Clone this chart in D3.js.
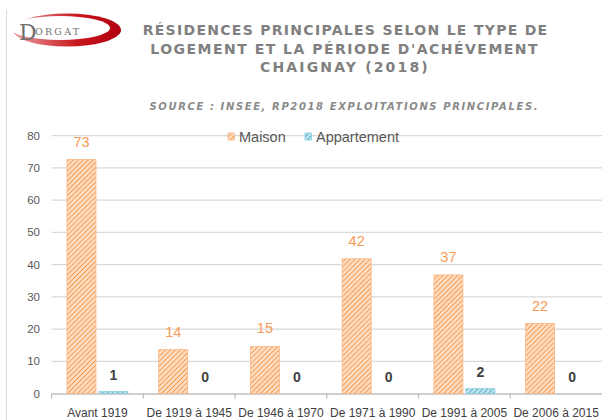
<!DOCTYPE html>
<html>
<head>
<meta charset="utf-8">
<script src="https://cdn.jsdelivr.net/npm/d3@7"></script>
<style>
  html, body { margin: 0; padding: 0; background: #fff; }
  svg { display: block; font-family: "Liberation Sans", Arial, sans-serif; }
</style>
</head>
<body>
<div id="chart"></div>
<script>
// data
var periodes = ["Avant 1919", "De 1919 à 1945", "De 1946 à 1970", "De 1971 à 1990", "De 1991 à 2005", "De 2006 à 2015"];
var maison = [72.6, 13.6, 14.6, 41.8, 36.8, 21.7];
var appartement = [0.6, 0, 0, 0, 1.5, 0];
var series = ["Maison", "Appartement"];
var yTicks = [0, 10, 20, 30, 40, 50, 60, 70, 80];
var titleLines = ["RÉSIDENCES PRINCIPALES SELON LE TYPE DE", "LOGEMENT ET LA PÉRIODE D'ACHÉVEMENT", "CHAIGNAY (2018)"];
var sourceText = "SOURCE : INSEE, RP2018 EXPLOITATIONS PRINCIPALES.";

var width = 602, height = 420;
var plot = {left: 51.6, right: 602, top: 135.7, bottom: 393.5};

var svg = d3.select("#chart")
  .append("svg")
    .attr("width", width)
    .attr("height", height);

// hatch patterns
var defs = svg.append("defs");
function hatch(id, bg, fg) {
  var p = defs.append("pattern")
    .attr("id", id)
    .attr("patternUnits", "userSpaceOnUse")
    .attr("width", 3.5)
    .attr("height", 3.5)
    .attr("patternTransform", "rotate(45)");
  p.append("rect").attr("width", 3.5).attr("height", 3.5).attr("fill", bg);
  p.append("line")
    .attr("x1", 0).attr("y1", 0).attr("x2", 0).attr("y2", 3.5)
    .attr("stroke", fg).attr("stroke-width", 1.7);
}
hatch("hMaison", "#fddcc2", "#f79646");
hatch("hAppart", "#bfe3ee", "#4bacc6");

// logo swoosh: red ellipse with an offset ellipse cut out
var grad = defs.append("linearGradient").attr("id", "logoGrad");
grad.append("stop").attr("offset", "0%").attr("stop-color", "#e9a3a3");
grad.append("stop").attr("offset", "60%").attr("stop-color", "#c8161d");
grad.append("stop").attr("offset", "100%").attr("stop-color", "#b00010");
var mask = defs.append("mask").attr("id", "logoMask");
mask.append("rect").attr("width", 140).attr("height", 60).attr("fill", "#fff");
mask.append("ellipse")
  .attr("cx", 60).attr("cy", 28).attr("rx", 50).attr("ry", 12)
  .attr("fill", "#000");

// left frame line
svg.append("line")
  .attr("x1", 6.5).attr("x2", 6.5).attr("y1", 10).attr("y2", height)
  .attr("stroke", "#d9d9d9");

var logo = svg.append("g");
logo.append("ellipse")
  .attr("cx", 67).attr("cy", 30).attr("rx", 54).attr("ry", 16.5)
  .attr("fill", "url(#logoGrad)")
  .attr("mask", "url(#logoMask)");
logo.append("text")
  .attr("x", 19).attr("y", 40)
  .style("font-family", "'DejaVu Serif', serif")
  .style("font-size", "22px")
  .attr("fill", "#707070")
  .text("D");
logo.append("text")
  .attr("x", 35).attr("y", 34.5)
  .style("font-family", "'DejaVu Serif', serif")
  .style("font-size", "9.5px")
  .style("letter-spacing", "2.2px")
  .attr("fill", "#707070")
  .text("ORGAT");

// title
var titleX = [142.7, 150.3, 260];
var titleW = [404.5, 387.3, 167.7];
var titleY = [35, 54, 72];
svg.selectAll(".title")
  .data(titleLines)
  .enter()
  .append("text")
    .attr("class", "title")
    .attr("x", function(d, i) { return titleX[i]; })
    .attr("y", function(d, i) { return titleY[i]; })
    .attr("textLength", function(d, i) { return titleW[i]; })
    .attr("lengthAdjust", "spacing")
    .style("font-family", "'DejaVu Sans', sans-serif")
    .style("font-size", "14px")
    .style("font-weight", "bold")
    .attr("fill", "#808080")
    .text(function(d) { return d; });

svg.append("text")
  .attr("x", 149.5).attr("y", 110)
  .attr("textLength", 388)
  .attr("lengthAdjust", "spacing")
  .style("font-family", "'DejaVu Sans', sans-serif")
  .style("font-size", "10px")
  .style("font-weight", "bold")
  .style("font-style", "italic")
  .attr("fill", "#8a8a8a")
  .text(sourceText);

// scales
var x = d3.scaleBand()
  .domain(periodes)
  .range([plot.left, plot.right]);
var xs = d3.scaleBand()
  .domain(series)
  .range([0, x.bandwidth()])
  .paddingInner(0.094)
  .paddingOuter(0.48);
var y = d3.scaleLinear()
  .domain([0, 80])
  .range([plot.bottom, plot.top]);

// gridlines
svg.selectAll(".grid")
  .data(yTicks.slice(1))
  .enter()
  .append("line")
    .attr("x1", plot.left).attr("x2", plot.right)
    .attr("y1", function(d) { return y(d); })
    .attr("y2", function(d) { return y(d); })
    .attr("stroke", "#d9d9d9")
    .attr("stroke-width", 1.2);

// y axis labels
svg.selectAll(".ylab")
  .data(yTicks)
  .enter()
  .append("text")
    .attr("x", 40)
    .attr("y", function(d) { return y(d) + 4; })
    .attr("text-anchor", "end")
    .style("font-size", "11.5px")
    .attr("fill", "#595959")
    .text(function(d) { return d; });

// x axis
var xAxis = svg.append("g")
  .attr("transform", "translate(0," + plot.bottom + ")")
  .call(d3.axisBottom(x).tickSize(0).tickPadding(15));
xAxis.select(".domain").attr("stroke", "#bfbfbf").attr("stroke-width", 1.3);
xAxis.selectAll("text")
  .style("font-family", "'Liberation Sans', Arial, sans-serif")
  .style("font-size", "12px")
  .attr("fill", "#404040");
xAxis.selectAll(".sep")
  .data(periodes)
  .enter()
  .append("line")
    .attr("x1", function(d) { return x(d); })
    .attr("x2", function(d) { return x(d); })
    .attr("y1", 0).attr("y2", 5)
    .attr("stroke", "#bfbfbf")
    .attr("stroke-width", 1.3);

// bars
var rows = periodes.map(function(p, i) {
  return {periode: p, Maison: maison[i], Appartement: appartement[i]};
});
var fills = {Maison: "url(#hMaison)", Appartement: "url(#hAppart)"};
var strokes = {Maison: "#fab784", Appartement: "#8ccfe0"};

series.forEach(function(s) {
  svg.selectAll(".bar-" + s)
    .data(rows)
    .enter()
    .append("rect")
      .attr("x", function(d) { return x(d.periode) + xs(s); })
      .attr("y", function(d) { return y(d[s]); })
      .attr("width", xs.bandwidth())
      .attr("height", function(d) { return y(0) - y(d[s]); })
      .attr("fill", fills[s])
      .attr("stroke", function(d) { return d[s] > 0 ? strokes[s] : "none"; })
      .attr("stroke-width", 0.8);
});

// data labels
svg.selectAll(".lab-m")
  .data(rows)
  .enter()
  .append("text")
    .attr("x", function(d) { return x(d.periode) + xs("Maison") + xs.bandwidth() / 2; })
    .attr("y", function(d) { return y(d.Maison) - 13; })
    .attr("text-anchor", "middle")
    .style("font-size", "14.5px")
    .attr("fill", "#f79a55")
    .text(function(d) { return Math.round(d.Maison); });

svg.selectAll(".lab-a")
  .data(rows)
  .enter()
  .append("text")
    .attr("x", function(d) { return x(d.periode) + xs("Appartement") + xs.bandwidth() / 2; })
    .attr("y", function(d) { return y(d.Appartement) - 11.5; })
    .attr("text-anchor", "middle")
    .style("font-size", "14px")
    .style("font-weight", "bold")
    .attr("fill", "#404040")
    .text(function(d) { return Math.round(d.Appartement); });

// legend
var legendX = [228, 305];
var legend = svg.selectAll(".legend")
  .data(series)
  .enter()
  .append("g")
    .attr("transform", function(d, i) { return "translate(" + legendX[i] + ",136.5)"; });
legend.append("rect")
  .attr("x", 0).attr("y", -3.5)
  .attr("width", 6.5).attr("height", 7)
  .attr("fill", function(d) { return fills[d]; })
  .attr("stroke", function(d) { return strokes[d]; })
  .attr("stroke-width", 0.8);
legend.append("text")
  .attr("x", 11)
  .attr("y", 5)
  .style("font-size", "14.5px")
  .attr("fill", "#595959")
  .text(function(d) { return d; });
</script>
</body>
</html>
